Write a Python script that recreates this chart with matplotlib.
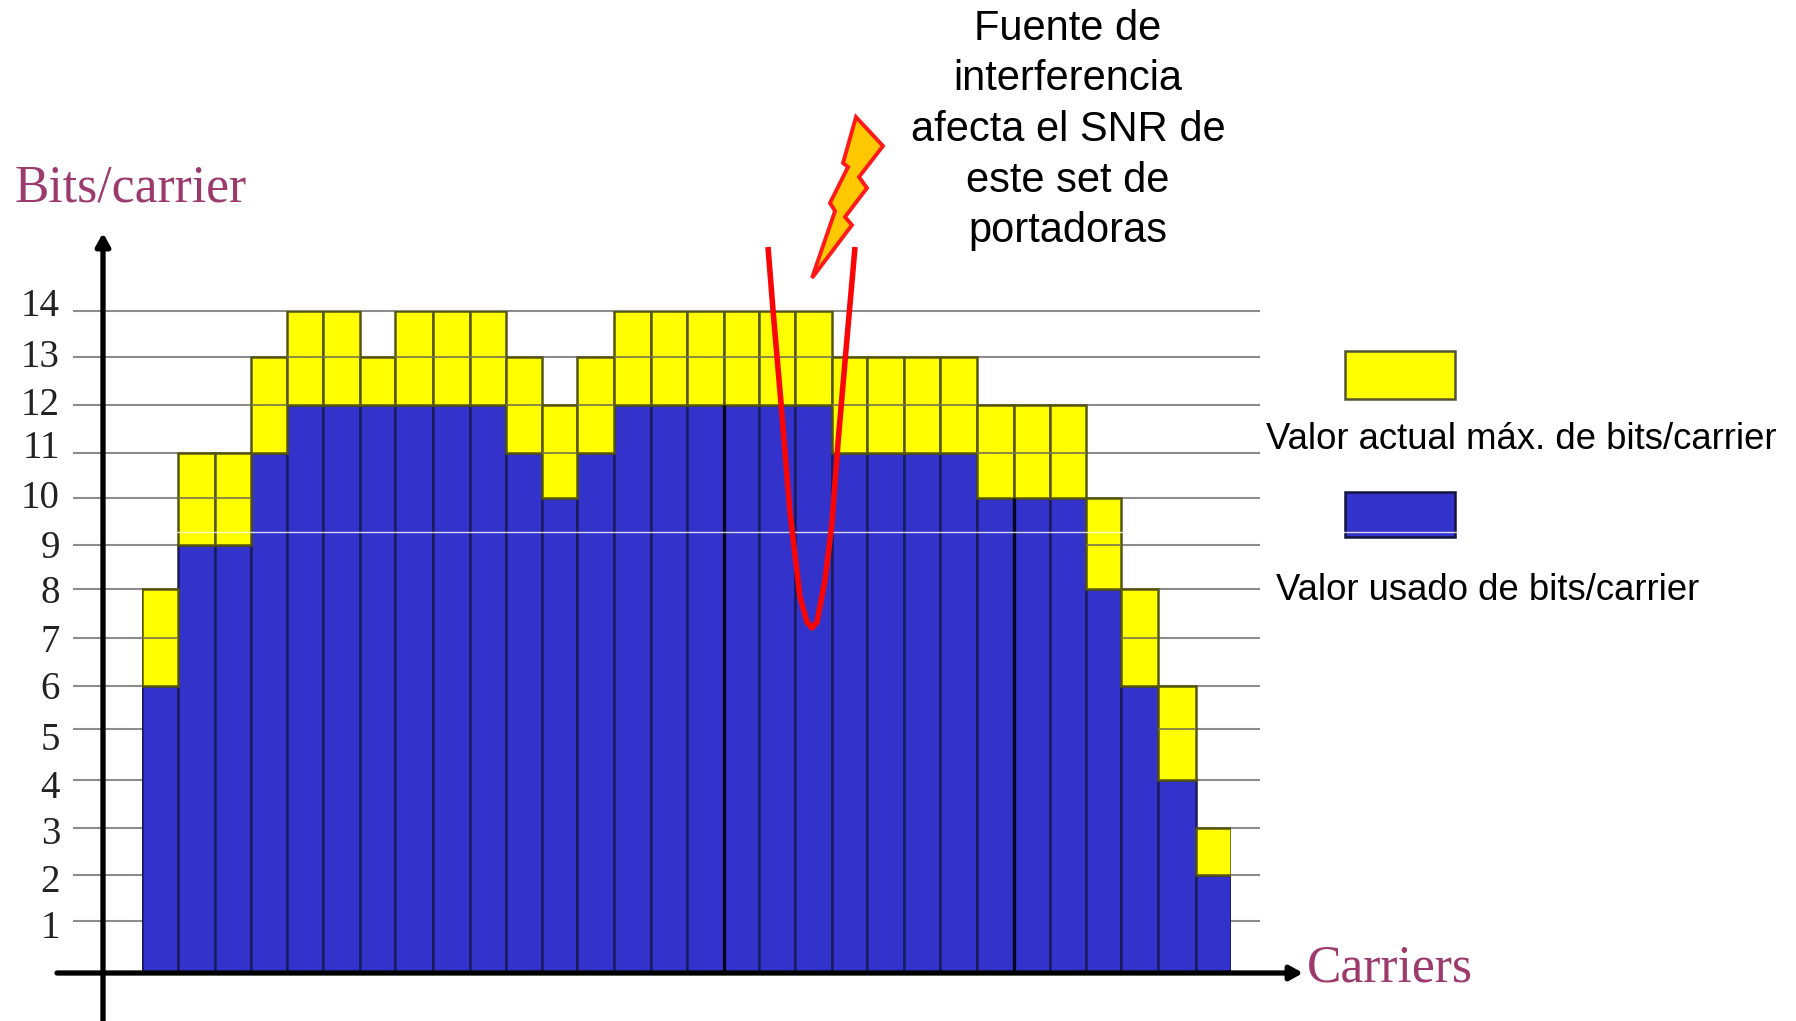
import matplotlib
matplotlib.use("Agg")
import matplotlib.pyplot as plt
import numpy as np
from matplotlib.patches import Polygon, Rectangle

W, H = 1796, 1021

# values
max_bits = [8, 11, 11, 13, 14, 14, 13, 14, 14, 14, 13, 12, 13, 14, 14, 14, 14, 14, 14,
            13, 13, 13, 13, 12, 12, 12, 10, 8, 6, 3]
used_bits = [6, 9, 9, 11, 12, 12, 12, 12, 12, 12, 11, 10, 11, 12, 12, 12, 12, 12, 12,
             11, 11, 11, 11, 10, 10, 10, 8, 6, 4, 2]
y_ticks = list(range(0, 15))

# the original is a hand drawn image, the grid is not quite even
y_px = [973, 921, 875, 828, 780, 729, 686, 638, 589, 545, 498, 453, 405, 357, 311]
x_edges_px = [142, 178, 215, 251, 287, 323, 360, 395, 433, 470, 506, 542, 577, 614, 651,
              687, 724, 759, 795, 832, 867, 904, 940, 977, 1014, 1050, 1086, 1121, 1158,
              1196, 1231]
label_y_px = [928, 882, 834, 788, 740, 689, 642, 593, 548, 498, 448, 405, 357, 306]

# notch in the SNR, figure pixels
notch_x = [768, 773, 781, 790, 800, 807, 812, 817, 825, 832, 838, 846, 855]
notch_y = [247, 310, 403, 513, 597, 622, 628, 622, 580, 523, 443, 350, 247]
bolt_x = [856, 883, 859, 867, 845, 852, 812, 835, 830, 848, 843]
bolt_y = [117, 146, 177, 188, 217, 225, 278, 211, 203, 167, 163]

BLUE = "#3333cc"
YELLOW = "#ffff00"
MAROON = "#9c3a6e"


def y_forward(v):
    return np.interp(v, y_ticks, y_px) * -1.0


def y_inverse(p):
    return np.interp(-np.asarray(p), y_px[::-1], y_ticks[::-1])


def x_forward(v):
    return np.interp(v, np.arange(len(x_edges_px)), x_edges_px)


def x_inverse(p):
    return np.interp(p, x_edges_px, np.arange(len(x_edges_px)))


fig = plt.figure(figsize=(W / 100, H / 100), dpi=100, facecolor="white")

ax = fig.add_axes([x_edges_px[0] / W, 1 - y_px[0] / H,
                   (x_edges_px[-1] - x_edges_px[0]) / W, (y_px[0] - y_px[-1]) / H])
ax.set_xscale("function", functions=(x_forward, x_inverse))
ax.set_yscale("function", functions=(y_forward, y_inverse))
ax.set_xlim(0, len(max_bits))
ax.set_ylim(0, 14)
ax.patch.set_alpha(0)
for s in ax.spines.values():
    s.set_visible(False)
ax.set_xticks([])
ax.set_yticks([])

# grid runs past the bars on both sides
span = x_edges_px[-1] - x_edges_px[0]
ax.hlines(y_ticks[1:], (73 - x_edges_px[0]) / span, (1260 - x_edges_px[0]) / span,
          transform=ax.get_yaxis_transform(), colors="#8c8c8c", lw=1.5, clip_on=False, zorder=1)

carriers = np.arange(len(max_bits)) + 0.5
extra = np.array(max_bits) - np.array(used_bits)
ax.bar(carriers, used_bits, width=1, color=BLUE, edgecolor="#1a1a5e", lw=1.8, zorder=2)
ax.bar(carriers, extra, width=1, bottom=used_bits, color=YELLOW, edgecolor="#55550f", lw=1.8, zorder=2)
# grid shows faintly through the yellow
for c, low, high in zip(carriers, used_bits, max_bits):
    for t in range(low + 1, high):
        ax.hlines(t, c - 0.5, c + 0.5, colors="#77774a", lw=1.2, zorder=2.5)
# two darker carrier boundaries
ax.vlines([16, 24], 0, [12, 10], colors="#05051e", lw=2.4, zorder=3)

# overlay in figure pixels for annotations
ov = fig.add_axes([0, 0, 1, 1], zorder=5)
ov.set_xlim(0, W)
ov.set_ylim(H, 0)
ov.axis("off")

# stray white scan line from the source image
ov.plot([100, 1498], [532, 532], color="white", lw=1.0, alpha=0.8, zorder=2)

ov.plot(notch_x, notch_y, color="#fa0505", lw=4.0, solid_capstyle="butt", zorder=4)
ov.add_patch(Polygon(np.column_stack([bolt_x, bolt_y]), closed=True, facecolor="#ffc800",
                     edgecolor="#ff1a1a", lw=2.8, zorder=4))

ov.annotate("", xy=(103, 233), xytext=(103, 1021), zorder=4,
            arrowprops=dict(arrowstyle="-|>,head_width=0.42,head_length=0.75", color="black", lw=3.8,
                            shrinkA=0, shrinkB=0))
ov.annotate("", xy=(1303, 973), xytext=(57, 973), zorder=4,
            arrowprops=dict(arrowstyle="-|>,head_width=0.42,head_length=0.75", color="black", lw=3.8,
                            shrinkA=0, shrinkB=0))

for t, yp in zip(y_ticks[1:], label_y_px):
    ov.text(60, yp, str(t), family="Liberation Serif", fontsize=28, color="#222222",
            ha="right", va="center")

ov.text(15, 189, "Bits/carrier", family="Liberation Serif", fontsize=37.2, color=MAROON,
        ha="left", va="center")
ov.text(1307, 968, "Carriers", family="Liberation Serif", fontsize=37.2, color=MAROON,
        ha="left", va="center")

ov.text(1068, 130, "Fuente de\ninterferencia\nafecta el SNR de\neste set de\nportadoras",
        family="Liberation Sans", fontsize=30, color="black", ha="center", va="center",
        linespacing=1.34)

ov.add_patch(Rectangle((1345, 351), 110, 48, facecolor=YELLOW, edgecolor="#555533", lw=1.8))
ov.add_patch(Rectangle((1345, 492), 110, 45, facecolor=BLUE, edgecolor="#14143c", lw=1.8))
ov.text(1266, 439, "Valor actual máx. de bits/carrier", family="Liberation Sans", fontsize=26.25,
        color="black", ha="left", va="center")
ov.text(1276, 590, "Valor usado de bits/carrier", family="Liberation Sans", fontsize=26.25,
        color="black", ha="left", va="center")

fig.savefig("out.png", dpi=100)
